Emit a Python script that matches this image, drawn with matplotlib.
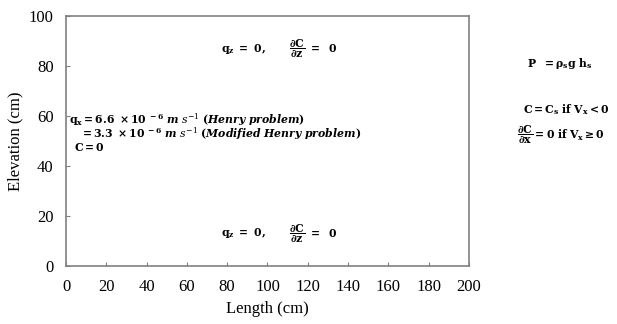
import matplotlib
matplotlib.use('Agg')
import matplotlib.pyplot as plt

# axis setup
x_limits = [0, 200]
y_limits = [0, 100]
x_ticks = list(range(0, 201, 20))
y_ticks = list(range(0, 101, 20))

# boundary condition labels: (x, y, text)
top_labels = [(77, 86.8, r'$\mathbf{q_z\ =\ 0,}$'),
              (110.5, 86.8, r'$\mathbf{\dfrac{\partial C}{\partial z}\ =\ \ 0}$')]
bottom_labels = [(77, 13, r'$\mathbf{q_z\ =\ 0,}$'),
                 (110.5, 13, r'$\mathbf{\dfrac{\partial C}{\partial z}\ =\ \ 0}$')]
left_labels = [(1.5, 58.4, r'$\mathbf{q_x = 6.6\ \times 10^{\ -6}}\ \boldsymbol{m\ s^{-1}}\ \mathbf{(}\boldsymbol{Henry\ problem}\mathbf{)}$'),
               (7, 53.0, r'$\mathbf{=3.3\ \times 10^{\ -6}}\ \boldsymbol{m\ s^{-1}}\ \mathbf{(}\boldsymbol{Modified\ Henry\ problem}\mathbf{)}$'),
               (4, 47.4, r'$\mathbf{C = 0}$')]
right_labels = [(229, 81.0, r'$\mathbf{P\ \ = \rho_s g\ h_s}$'),
                (227, 62.5, r'$\mathbf{C = C_s\ if\ V_x < 0}$'),
                (224, 52.5, r'$\mathbf{\dfrac{\partial C}{\partial x} = 0\ if\ V_x \geq 0}$')]

plt.rcParams['font.family'] = ['Liberation Serif']
plt.rcParams['mathtext.fontset'] = 'dejavuserif'

fig = plt.figure(figsize=(6.17, 3.24), dpi=100)
ax = fig.add_axes([0.107, 0.179, 0.653, 0.772])
ax.set_xlim(x_limits)
ax.set_ylim(y_limits)
ax.set_xticks(x_ticks)
ax.set_yticks(y_ticks)
ax.tick_params(direction='in', length=3, color='#808080', labelsize=12, pad=9)
for sp in ax.spines.values():
    sp.set_color('#808080')
    sp.set_linewidth(1.2)
ax.set_xlabel('Length (cm)', fontsize=12, labelpad=5)
ax.set_ylabel('Elevation (cm)', fontsize=12, labelpad=4)

for x, y, s in top_labels + bottom_labels + left_labels:
    ax.text(x, y, s, fontsize=7.8, ha='left', va='center')
for x, y, s in right_labels:
    ax.text(x, y, s, fontsize=7.8, ha='left', va='center', clip_on=False)

fig.savefig('out.png', dpi=100)
